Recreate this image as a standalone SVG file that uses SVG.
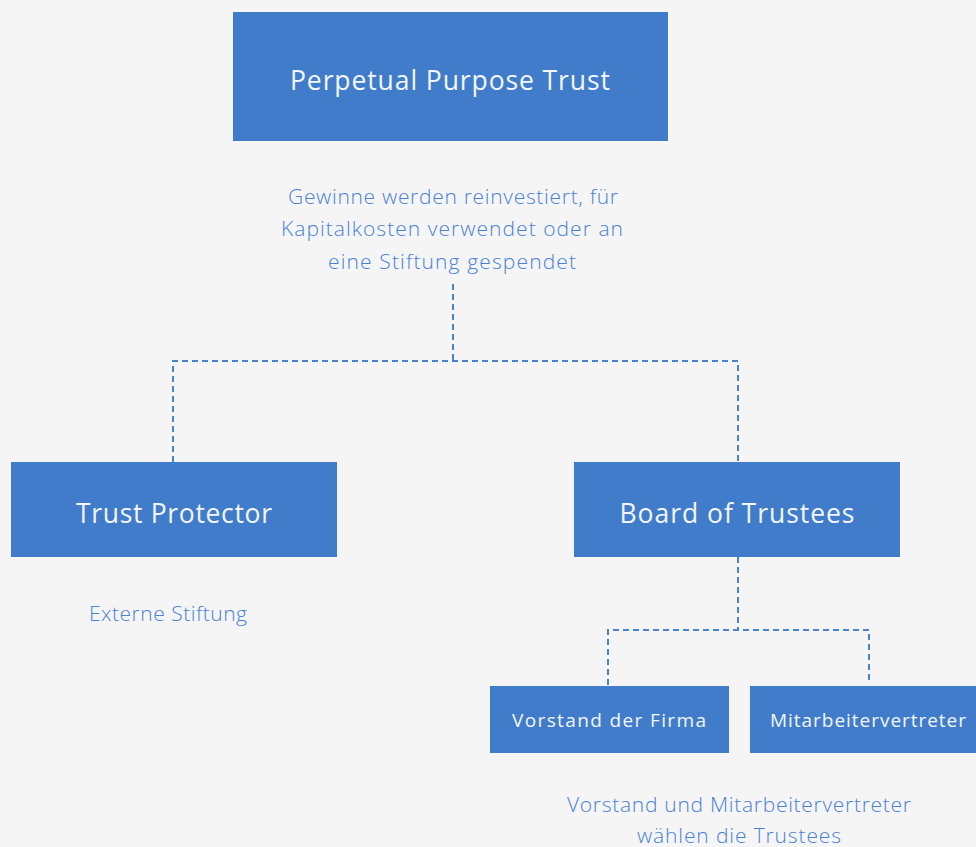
<svg xmlns="http://www.w3.org/2000/svg" width="976" height="847" viewBox="0 0 976 847">
<style>
.bg{fill:#f5f5f5}
.box{fill:#417ccb}
.nt{font-family:"Open Sans","Liberation Sans",sans-serif;font-weight:500;fill:#f3f6fb;text-anchor:middle}
.lb{font-family:"Open Sans","Liberation Sans",sans-serif;font-weight:300;fill:#4a82d2;text-anchor:middle;font-size:21px}
.cn{fill:none;stroke:#4a82d2;stroke-width:2;stroke-dasharray:6 4}
</style>
<rect class="bg" x="0" y="0" width="976" height="847"/>
<g id="connectors">
<path class="cn" d="M453 284 V361 M173 462 V361 H738 V462"/>
<path class="cn" d="M738 557 V630 M608 685 V630 H869 V684"/>
</g>
<g id="ppt">
<rect class="box" x="233" y="12" width="435" height="129"/>
<text class="nt" x="450" y="90" font-size="26.5" textLength="320" lengthAdjust="spacing">Perpetual Purpose Trust</text>
</g>
<g id="ppt-label">
<text class="lb" x="453" y="204" textLength="330" lengthAdjust="spacing">Gewinne werden reinvestiert, für</text>
<text class="lb" x="452" y="236" textLength="342" lengthAdjust="spacing">Kapitalkosten verwendet oder an</text>
<text class="lb" x="452" y="269" textLength="248" lengthAdjust="spacing">eine Stiftung gespendet</text>
</g>
<g id="trust-protector">
<rect class="box" x="11" y="462" width="326" height="95"/>
<text class="nt" x="174" y="523" font-size="26.5" textLength="196" lengthAdjust="spacing">Trust Protector</text>
</g>
<g id="tp-label">
<text class="lb" x="168" y="621" textLength="158" lengthAdjust="spacing">Externe Stiftung</text>
</g>
<g id="board">
<rect class="box" x="574" y="462" width="326" height="95"/>
<text class="nt" x="737" y="523" font-size="26.5" textLength="235" lengthAdjust="spacing">Board of Trustees</text>
</g>
<g id="vorstand">
<rect class="box" x="490" y="686" width="239" height="67"/>
<text class="nt" x="609" y="727" font-size="19" textLength="194" lengthAdjust="spacing">Vorstand der Firma</text>
</g>
<g id="mitarbeiter">
<rect class="box" x="750" y="686" width="230" height="67"/>
<text class="nt" x="868" y="727" font-size="19" textLength="196" lengthAdjust="spacing">Mitarbeitervertreter</text>
</g>
<g id="bottom-label">
<text class="lb" x="739" y="812" textLength="344" lengthAdjust="spacing">Vorstand und Mitarbeitervertreter</text>
<text class="lb" x="739" y="843" textLength="204" lengthAdjust="spacing">wählen die Trustees</text>
</g>
</svg>
